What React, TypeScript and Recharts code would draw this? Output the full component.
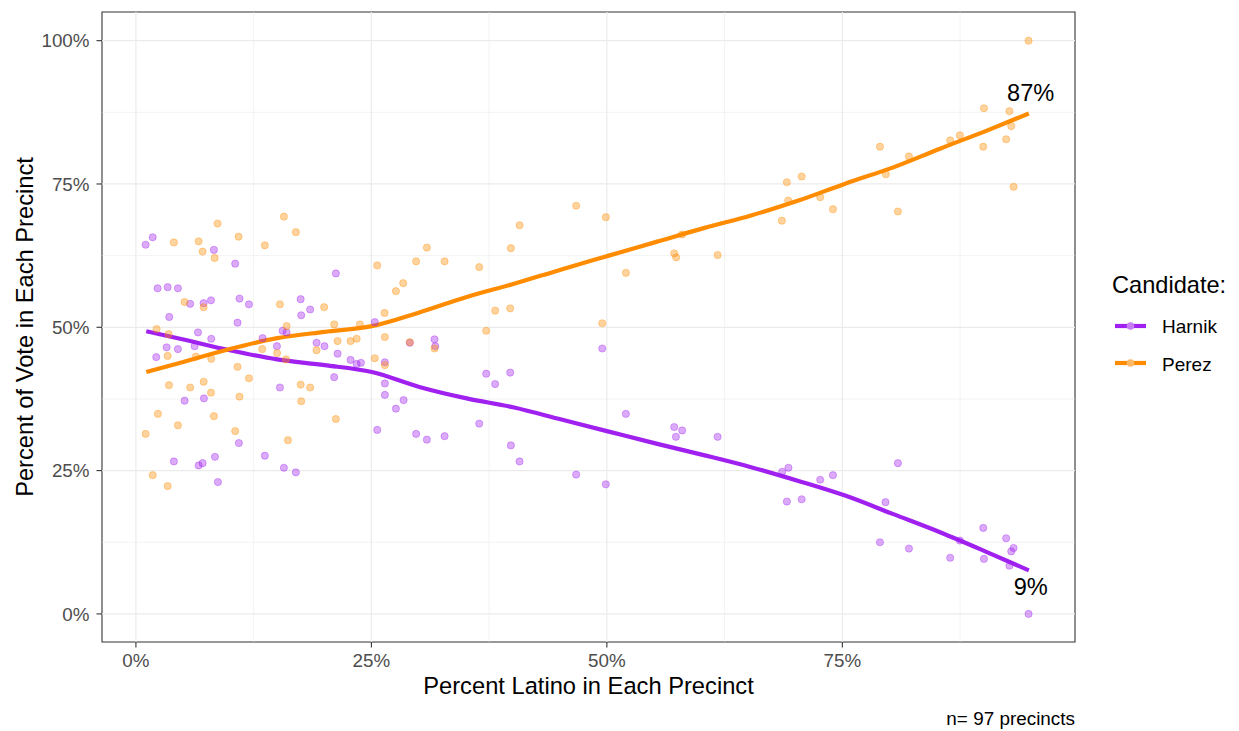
import React from "react";
import {
  ComposedChart,
  Scatter,
  Line,
  XAxis,
  YAxis,
  ReferenceLine,
  ReferenceArea,
  ReferenceDot,
} from "recharts";

// tick positions
const xTicks = [0, 25, 50, 75];
const yTicks = [0, 25, 50, 75, 100];
const minorTicks = [12.5, 37.5, 62.5, 87.5];

// precinct points (x = % Latino, y = % of vote)
const harnikLatino = [
  1.03, 1.78, 8.28, 10.54, 2.3, 3.37, 4.46, 5.76, 7.19, 7.97, 11.0, 12.0, 3.54, 10.79, 6.59, 8.0,
  3.26, 4.46, 2.16, 6.23, 5.17, 7.22, 10.93, 4.03, 6.66, 7.08, 8.39, 8.71, 13.69,
  21.23, 17.49, 18.5, 17.55, 15.57, 16.0, 13.45, 14.97, 19.18, 20.02, 21.41, 25.36, 22.79, 23.44,
  23.89, 26.43, 29.08, 31.7, 31.78, 21.05, 15.29, 26.43, 26.43, 28.42, 27.6, 25.62, 29.75, 30.89,
  32.77, 15.71, 16.98,
  49.51, 37.19, 38.14, 39.74, 36.45, 39.81, 40.73, 46.74, 49.89, 52.02, 57.15, 57.99, 57.33, 61.76,
  68.61, 69.28, 80.9, 72.65, 74.0, 69.11, 70.68, 79.58, 78.99, 82.07, 86.45, 87.48, 89.96, 90.03,
  92.39, 93.18, 92.93, 92.74, 94.77,
];
const harnikVote = [
  64.4, 65.7, 63.5, 61.1, 56.8, 57.0, 56.8, 54.1, 54.2, 54.7, 55.0, 54.0, 51.8, 50.8, 49.1, 48.0,
  46.5, 46.2, 44.8, 46.7, 37.2, 37.6, 29.8, 26.6, 25.9, 26.3, 27.4, 23.0, 27.6,
  59.4, 54.9, 53.1, 52.1, 49.4, 49.1, 48.1, 46.7, 47.3, 46.7, 45.4, 50.9, 44.3, 43.6,
  43.8, 43.9, 47.3, 47.9, 46.7, 41.3, 39.5, 40.2, 38.2, 37.3, 35.8, 32.1, 31.4, 30.4,
  31.0, 25.5, 24.7,
  46.3, 41.9, 40.1, 42.1, 33.2, 29.4, 26.6, 24.3, 22.6, 34.9, 32.6, 32.0, 30.9, 30.9,
  24.8, 25.5, 26.3, 23.4, 24.2, 19.6, 20.0, 19.5, 12.5, 11.4, 9.8, 12.8, 15.0, 9.6,
  13.2, 11.5, 10.9, 8.4, 0.0,
];

const perezLatino = [
  8.67, 4.03, 6.66, 7.08, 8.36, 10.9, 13.69, 5.17, 7.19, 2.2, 3.47, 3.37, 6.37, 8.0, 13.41, 10.79,
  12.0, 3.51, 5.76, 7.19, 7.97, 11.0, 2.34, 8.28, 4.46, 1.03, 10.54, 1.78, 3.37,
  15.71, 16.98, 25.62, 29.75, 30.89, 32.77, 27.6, 28.38, 15.29, 19.99, 26.4, 16.0, 21.05, 23.78,
  14.99, 15.93, 19.18, 21.41, 22.79, 23.44, 26.43, 29.08, 31.7, 25.36, 26.43, 17.49, 18.5, 17.55,
  21.23, 16.14,
  36.45, 40.73, 39.81, 46.74, 49.89, 38.14, 39.74, 37.19, 49.51, 52.02, 57.15, 57.36, 57.99, 61.76,
  94.77, 90.03, 92.74, 92.93, 92.39, 89.96, 87.48, 86.45, 93.18, 78.99, 82.07, 79.62, 80.9, 69.11,
  70.68, 69.25, 72.65, 74.0, 68.58,
];
const perezVote = [
  68.1, 64.8, 65.0, 63.2, 62.1, 65.8, 64.3, 54.4, 53.5, 49.7, 48.8, 45.0, 44.9, 44.5, 46.2, 43.1,
  41.1, 39.9, 39.5, 40.5, 38.6, 37.9, 34.9, 34.5, 32.9, 31.4, 31.9, 24.2, 22.3,
  69.3, 66.6, 60.8, 61.5, 63.9, 61.5, 56.3, 57.7, 54.0, 53.5, 52.5, 50.2, 50.5, 50.5,
  45.5, 44.4, 46.0, 47.6, 47.6, 48.0, 48.3, 47.4, 46.3, 44.6, 43.4, 40.0, 39.5, 37.1,
  34.0, 30.3,
  60.5, 67.8, 63.8, 71.2, 69.2, 52.9, 53.3, 49.4, 50.7, 59.5, 62.9, 62.2, 66.2, 62.6,
  100.0, 88.2, 87.7, 85.1, 82.8, 81.5, 83.5, 82.6, 74.5, 81.5, 79.8, 76.7, 70.2, 75.3,
  76.3, 72.1, 72.7, 70.6, 68.6,
];

// smoothed trend lines
const fitLatino = [
  1.1, 4.93, 9.96, 14.99, 20.02, 25.05, 30.09, 35.12, 40.15, 45.18, 50.21, 55.25, 60.28, 65.31,
  70.34, 75.37, 80.41, 85.44, 90.47, 94.8,
];
const perezFit = [
  42.2, 43.9, 46.2, 48.1, 49.2, 50.2, 52.6, 55.3, 57.6, 60.1, 62.5, 64.9, 67.3, 69.5, 72.1, 75.1,
  77.9, 81.2, 84.4, 87.3,
];
const harnikFit = [
  49.3, 47.9, 46.0, 44.4, 43.4, 42.2, 39.6, 37.6, 36.0, 33.9, 31.8, 29.7, 27.7, 25.6, 23.2, 20.6,
  17.4, 14.2, 10.7, 7.6,
];

const PURPLE = "#A020F0";
const ORANGE = "#FF8C00";
const FONT = "'Liberation Sans', Arial, sans-serif";
const X_DOMAIN: [number, number] = [-3.6, 99.7];
const Y_DOMAIN: [number, number] = [-4.9, 105];

const harnikPts = harnikLatino.map((x, i) => ({ x, y: harnikVote[i] }));
const perezPts = perezLatino.map((x, i) => ({ x, y: perezVote[i] }));
const harnikLine = fitLatino.map((x, i) => ({ x, v: harnikFit[i] }));
const perezLine = fitLatino.map((x, i) => ({ x, v: perezFit[i] }));

const dot = (color: string) => (props: any) => (
  <circle
    cx={props.cx}
    cy={props.cy}
    r={3.6}
    fill={color}
    fillOpacity={0.38}
    stroke={color}
    strokeOpacity={0.35}
    strokeWidth={1}
  />
);

const tickStyle = { fontSize: 18.8, fill: "#4D4D4D", fontFamily: FONT };

export default function App() {
  return (
    <div
      style={{
        position: "absolute",
        left: 0,
        top: 0,
        width: 1239,
        height: 731,
        background: "#fff",
        fontFamily: FONT,
      }}
    >
      <ComposedChart
        width={1239}
        height={731}
        margin={{ top: 12, right: 164, bottom: 59, left: 40 }}
      >
        <XAxis
          type="number"
          dataKey="x"
          domain={X_DOMAIN}
          allowDataOverflow
          ticks={xTicks}
          tickFormatter={(v) => `${v}%`}
          tick={tickStyle}
          tickSize={5.5}
          tickMargin={6.5}
          tickLine={{ stroke: "#333333", strokeWidth: 1.1 }}
          axisLine={false}
          height={30}
        />
        <YAxis
          type="number"
          dataKey="y"
          domain={Y_DOMAIN}
          allowDataOverflow
          ticks={yTicks}
          tickFormatter={(v) => `${v}%`}
          tick={tickStyle}
          tickSize={5.5}
          tickMargin={7}
          tickLine={{ stroke: "#333333", strokeWidth: 1.1 }}
          axisLine={false}
          width={62}
        />

        {minorTicks.map((v) => (
          <ReferenceLine key={"mx" + v} x={v} stroke="#EBEBEB" strokeWidth={0.6} />
        ))}
        {minorTicks.map((v) => (
          <ReferenceLine key={"my" + v} y={v} stroke="#EBEBEB" strokeWidth={0.6} />
        ))}
        {xTicks.map((v) => (
          <ReferenceLine key={"x" + v} x={v} stroke="#EBEBEB" strokeWidth={1.2} />
        ))}
        {yTicks.map((v) => (
          <ReferenceLine key={"y" + v} y={v} stroke="#EBEBEB" strokeWidth={1.2} />
        ))}

        <Scatter data={harnikPts} shape={dot(PURPLE)} isAnimationActive={false} />
        <Scatter data={perezPts} shape={dot(ORANGE)} isAnimationActive={false} />

        <Line
          data={harnikLine}
          dataKey="v"
          type="monotone"
          stroke={PURPLE}
          strokeWidth={4.2}
          dot={false}
          isAnimationActive={false}
        />
        <Line
          data={perezLine}
          dataKey="v"
          type="monotone"
          stroke={ORANGE}
          strokeWidth={4.2}
          dot={false}
          isAnimationActive={false}
        />

        <ReferenceDot
          x={95}
          y={90.9}
          r={0}
          stroke="none"
          label={{ value: "87%", position: "center", fill: "#000", fontSize: 23.6, fontFamily: FONT }}
        />
        <ReferenceDot
          x={95}
          y={4.7}
          r={0}
          stroke="none"
          label={{ value: "9%", position: "center", fill: "#000", fontSize: 23.6, fontFamily: FONT }}
        />

        <ReferenceArea
          x1={X_DOMAIN[0]}
          x2={X_DOMAIN[1]}
          y1={Y_DOMAIN[0]}
          y2={Y_DOMAIN[1]}
          fill="none"
          stroke="#333333"
          strokeWidth={1.1}
          ifOverflow="visible"
        />
      </ComposedChart>

      <svg
        width={1239}
        height={731}
        style={{ position: "absolute", left: 0, top: 0, pointerEvents: "none" }}
        fontFamily={FONT}
      >
        <text x={588.5} y={694} textAnchor="middle" fontSize={23.7} fill="#000">
          Percent Latino in Each Precinct
        </text>
        <text
          x={0}
          y={0}
          transform="translate(33 327) rotate(-90)"
          textAnchor="middle"
          fontSize={23.7}
          fill="#000"
        >
          Percent of Vote in Each Precinct
        </text>
        <text x={1075} y={725} textAnchor="end" fontSize={18.9} fill="#000">
          n= 97 precincts
        </text>

        <text x={1112} y={293} fontSize={23.6} fill="#000">
          Candidate:
        </text>
        <line x1={1115} x2={1146} y1={326} y2={326} stroke={PURPLE} strokeWidth={4.2} />
        <circle cx={1130.5} cy={326} r={3.8} fill="#C67CF5" />
        <text x={1162} y={333} fontSize={19} fill="#000">
          Harnik
        </text>
        <line x1={1115} x2={1146} y1={363} y2={363} stroke={ORANGE} strokeWidth={4.2} />
        <circle cx={1130.5} cy={363} r={3.8} fill="#FFB866" />
        <text x={1162} y={371} fontSize={19} fill="#000">
          Perez
        </text>
      </svg>
    </div>
  );
}
